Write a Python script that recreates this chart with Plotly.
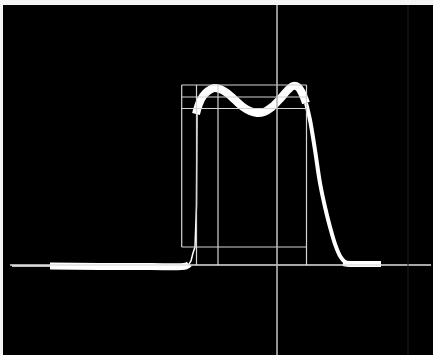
import plotly.graph_objects as go

# scope trace, arbitrary units (t along sweep, v above baseline)
lead_t = [12, 52]
lead_v = [-1, -1]

base_t = [50, 100, 150, 186, 189]
base_v = [-1, -1.5, -1.5, -1, 1]

edge_t = [189, 191, 193, 195, 196.5, 197]
edge_v = [1, 4, 12, 18, 60, 151]

top_t = [196, 199, 203, 208, 214, 220, 227, 235, 243, 250, 257,
         264, 272, 280, 287, 293, 298, 302, 306]
top_v = [151, 161, 169, 174, 177, 176, 172, 165, 158, 154, 152,
         153, 158, 166, 174, 179, 178, 172, 162]

fall_t = [306, 310, 315, 320, 325, 330, 335, 340, 345, 350]
fall_v = [162, 145, 115, 82, 58, 38, 21, 9, 3, 1]

tail_t = [343, 350, 360, 370, 381]
tail_v = [2, 1, 1, 1, 1]

# graticule
box_left, box_right = 181.7, 306.5
box_rows = [180, 168, 156.5, 18]
box_cols = [196.5, 218, 306.5]
box_col_left = 181.7
cursor_t = 277
faint_t = 408
baseline_span = [10, 431]

fig = go.Figure()

grid = dict(color="#d4d4d4", width=1.2)
for v in box_rows:
    fig.add_shape(type="line", x0=box_left, x1=box_right, y0=v, y1=v, line=grid)
for t in box_cols:
    fig.add_shape(type="line", x0=t, x1=t, y0=0, y1=box_rows[0], line=grid)
fig.add_shape(type="line", x0=box_col_left, x1=box_col_left,
              y0=box_rows[-1], y1=box_rows[0], line=grid)
fig.add_shape(type="line", x0=baseline_span[0], x1=baseline_span[1], y0=0, y1=0,
              line=dict(color="#e0e0e0", width=1.3))
fig.add_shape(type="line", x0=cursor_t, x1=cursor_t, y0=-90, y1=260,
              line=dict(color="#b8b8b8", width=1.6))
fig.add_shape(type="line", x0=faint_t, x1=faint_t, y0=-90, y1=260,
              line=dict(color="#1e1e1e", width=1))

def seg(t, v, w, shape="spline"):
    fig.add_trace(go.Scatter(x=t, y=v, mode="lines",
                             line=dict(color="white", width=w, shape=shape),
                             hoverinfo="skip", showlegend=False))

seg(lead_t, lead_v, 1.5, "linear")
seg(base_t, base_v, 7)
seg(edge_t, edge_v, 1.5, "linear")
seg(top_t, top_v, 8)
seg(fall_t, fall_v, 4)
seg(tail_t, tail_v, 6)

fig.update_xaxes(range=[3, 433], visible=False, fixedrange=True)
fig.update_yaxes(range=[-90, 260], visible=False, fixedrange=True)
fig.update_layout(width=433, height=355,
                  margin=dict(l=3, r=0, t=5, b=0),
                  paper_bgcolor="#f4f4f4", plot_bgcolor="black")

# drop the page margin so the figure sits at the window corner
fig.write_html("out.html", config={"displayModeBar": False},
               post_script="document.body.style.margin='0';document.body.style.overflow='hidden';")
